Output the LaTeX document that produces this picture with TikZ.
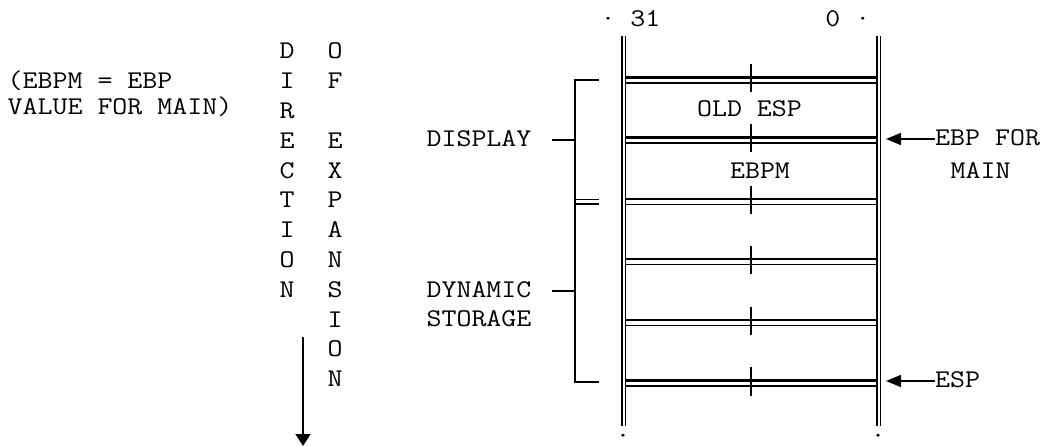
\documentclass[tikz,border=0pt]{standalone}
\usepackage{fontspec}
\usepackage{graphicx}
\usetikzlibrary{arrows.meta}
\newcommand{\tx}[1]{\scalebox{1.14}[1]{#1}}
\begin{document}
\begin{tikzpicture}[x=1pt,y=-1pt,
  txt/.style={font={\ttfamily\fontsize{25.5}{30}\selectfont}, inner sep=0pt, text height=14pt, text depth=0pt},
  thickln/.style={line width=2.3pt},
  thinln/.style={line width=1.5pt},
  vln/.style={line width=1.6pt},
  tickln/.style={line width=2pt},
  ptr/.style={line width=1.6pt, -{Triangle[length=15pt,width=12pt]}},
  downptr/.style={line width=1.6pt, -{Triangle[length=12pt,width=15pt]}}]
\useasboundingbox (0,0) rectangle (1050,446);

% header
\node[txt, anchor=west] (t31) at (600.3,20) {\tx{· 31}};
\node[txt, anchor=east] (t0) at (870.6,20) {\tx{0 ·}};
\node[txt, anchor=base, text height=8pt] (dl) at (623,443.5) {\tx{·}};
\node[txt, anchor=base, text height=8pt] (dr) at (878,443.5) {\tx{·}};

% left note
\node[txt, anchor=west] (n1) at (7.5,82) {\tx{(EBPM = EBP}};
\node[txt, anchor=west] (n2) at (7.5,108) {\tx{VALUE FOR MAIN)}};

% direction of expansion columns
\foreach \l [count=\k from 0] in {D,I,R,E,C,T,I,O,N} {
  \node[txt] (dir\k) at (287,52+29.8*\k) {\tx{\l}};
}
\foreach \l [count=\k from 0] in {O,F,,E,X,P,A,N,S,I,O,N} {
  \node[txt] (exp\k) at (335,52+29.8*\k) {\tx{\l}};
}
\coordinate (dtop) at (303,337);
\coordinate (dbot) at (303,446);
\draw[downptr] (dtop) -- (dbot);

% bracket labels
\node[txt] (disp) at (479,140) {\tx{DISPLAY}};
\node[txt] (dyn) at (479,291) {\tx{DYNAMIC}};
\node[txt] (stor) at (479,320) {\tx{STORAGE}};
\coordinate (bt) at (575,80);
\coordinate (bb) at (575,382);
\draw[vln] (599,80) -- (bt) -- (bb) -- (599,382);
\draw[vln] (575,199.5) -- (599,199.5);
\draw[vln] (575,204) -- (599,204);
\draw[vln] (552,140) -- (575,140);
\draw[vln] (552,291) -- (575,291);

% ladder verticals
\draw[vln] (621.7,36) -- (621.7,426);
\draw[vln] (625.3,36) -- (625.3,426);
\draw[vln] (876.8,36) -- (876.8,426);
\draw[vln] (880.5,36) -- (880.5,426);
\foreach \b in {77.5,137.5,199,259,320,380.5} {
  \draw[thickln] (625.3,\b) -- (876.8,\b);
  \draw[thinln] (625.3,\b+5.3) -- (876.8,\b+5.3);
  \draw[tickln] (751,\b-13) -- (751,\b+15);
}

% cell texts
\node[txt] (old) at (749.5,110) {\tx{OLD ESP}};
\node[txt] (ebpm) at (760,172) {\tx{EBPM}};

% right pointers
\node[txt, anchor=west] (ebp) at (935,139) {\tx{EBP FOR}};
\node[txt, anchor=west] (main) at (950.5,172) {\tx{MAIN}};
\node[txt, anchor=west] (esp) at (935,381) {\tx{ESP}};
\coordinate (ebptip) at (886,139);
\coordinate (esptip) at (886,381);
\draw[ptr] (ebp.west) -- (ebptip);
\draw[ptr] (esp.west) -- (esptip);
\end{tikzpicture}
\end{document}
